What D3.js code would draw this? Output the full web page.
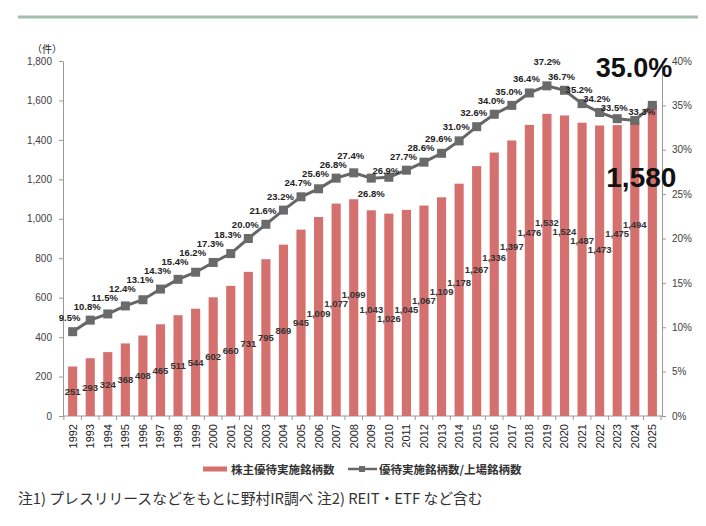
<!DOCTYPE html>
<html><head><meta charset="utf-8">
<script src="https://cdn.jsdelivr.net/npm/d3@7"></script>
<style>body{margin:0;background:#fff}svg{display:block}</style>
</head><body><svg id="c" width="706" height="526"></svg>
<script>
const years = ["1992","1993","1994","1995","1996","1997","1998","1999","2000","2001","2002","2003","2004","2005","2006","2007","2008","2009","2010","2011","2012","2013","2014","2015","2016","2017","2018","2019","2020","2021","2022","2023","2024","2025"];
const companies = [251,293,324,368,408,465,511,544,602,660,731,795,869,945,1009,1077,1099,1043,1026,1045,1067,1109,1178,1267,1336,1397,1476,1532,1524,1487,1473,1475,1494,1580];
const ratioPct = [9.5,10.8,11.5,12.4,13.1,14.3,15.4,16.2,17.3,18.3,20.0,21.6,23.2,24.7,25.6,26.8,27.4,26.8,26.9,27.7,28.6,29.6,31.0,32.6,34.0,35.0,36.4,37.2,36.7,35.2,34.2,33.5,33.3,35.0];
const leftTicks = [0,200,400,600,800,1000,1200,1400,1600,1800];
const rightTicks = [0,5,10,15,20,25,30,35,40];
const legendLabels = ["株主優待実施銘柄数","優待実施銘柄数/上場銘柄数"];
const unitLabel = "（件）";
const footnote = "注1) プレスリリースなどをもとに野村IR調べ 注2) REIT・ETF など含む";

const svg = d3.select("#c");
const NUM = "'Liberation Sans', Arial, sans-serif";
const CJK = "'Noto Sans CJK JP', 'Noto Sans', sans-serif";
const m = {l:63, r:662, t:61, b:416};

const x = d3.scaleBand().domain(years).range([m.l, m.r]).paddingInner(0.48).paddingOuter(0.29);
const yL = d3.scaleLinear().domain([0,1800]).range([m.b, m.t]);
const yR = d3.scaleLinear().domain([0,40]).range([m.b, m.t]);
const cx = d => x(d) + x.bandwidth()/2;
const last = years.length - 1;
const fmt = d3.format(",");

// top rule
svg.append("rect").attr("x",18).attr("y",15.5).attr("width",680).attr("height",3).attr("fill","#a2beae");

// axes
const gL = svg.append("g").attr("transform",`translate(${m.l},0)`)
  .call(d3.axisLeft(yL).tickValues(leftTicks).tickSize(4).tickSizeOuter(0).tickPadding(7).tickFormat(fmt));
const gR = svg.append("g").attr("transform",`translate(${m.r},0)`)
  .call(d3.axisRight(yR).tickValues(rightTicks).tickSize(4).tickSizeOuter(0).tickPadding(6).tickFormat(d => d + "%"));
[gL, gR].forEach(g => {
  g.selectAll("path,line").attr("stroke","#999");
  g.selectAll("text").attr("font-family",NUM).attr("font-size",10).attr("fill","#404040");
});

// bottom axis
svg.append("line").attr("x1",m.l).attr("x2",m.r).attr("y1",m.b).attr("y2",m.b).attr("stroke","#999");
const step = x.step();
const bounds = years.map(d => cx(d) - step/2).concat([cx(years[last]) + step/2]);
svg.append("g").selectAll("line").data(bounds).join("line")
  .attr("x1",d=>d).attr("x2",d=>d).attr("y1",m.b).attr("y2",m.b+4).attr("stroke","#999");
svg.append("g").selectAll("text").data(years).join("text")
  .attr("transform",d=>`translate(${cx(d)},${m.b+8}) rotate(-90)`)
  .attr("text-anchor","end").attr("dy","0.36em")
  .attr("font-family",NUM).attr("font-size",11).attr("fill","#222").text(d=>d);

// unit
svg.append("text").attr("x",47).attr("y",48).attr("text-anchor","middle").attr("dominant-baseline","central")
  .attr("font-family",CJK).attr("font-size",10).attr("fill","#222").text(unitLabel);

// bars
svg.append("g").selectAll("rect").data(years).join("rect")
  .attr("x",d=>x(d)).attr("width",x.bandwidth())
  .attr("y",(d,i)=>yL(companies[i])).attr("height",(d,i)=>m.b - yL(companies[i]))
  .attr("fill","#d4706e");

// line
const line = d3.line().x(d=>cx(d)).y((d,i)=>yR(ratioPct[i]));
svg.append("path").datum(years).attr("d",line).attr("fill","none").attr("stroke","#666").attr("stroke-width",3);
svg.append("g").selectAll("rect").data(years).join("rect")
  .attr("x",d=>cx(d)-4.5).attr("y",(d,i)=>yR(ratioPct[i])-4.5).attr("width",9).attr("height",9).attr("fill","#6a6a6a");

const LH = 9;
// bar labels: base position inside the bar, then staggered to avoid collisions
const barLabelY = [];
years.slice(0,last).forEach((d,i) => {
  const v = companies[i];
  let y = yL(v/2 + Math.max(0, v-1000)*0.4);
  if (i > 0 && fmt(v).length > 3) {
    const prev = barLabelY[i-1];
    if (Math.abs(y - prev) < LH) y = v >= companies[i-1] ? prev - LH : prev + LH;
  }
  barLabelY.push(y);
});
svg.append("g").selectAll("text").data(years.slice(0,last)).join("text")
  .attr("x",d=>cx(d))
  .attr("y",(d,i)=>barLabelY[i])
  .attr("text-anchor","middle").attr("dominant-baseline","central")
  .attr("font-family",NUM).attr("font-size",9.5).attr("font-weight","bold").attr("fill","#333")
  .text((d,i)=>fmt(companies[i]));

// line labels: above the marker, staggered to avoid collisions
const special = {"2009":[0,15], "2010":[-3,-7], "2019":[0,-24], "2024":[7,-9]};
const lineLabelPos = [];
years.slice(0,last).forEach((d,i) => {
  const py = yR(ratioPct[i]);
  if (special[d]) { lineLabelPos.push([cx(d)+special[d][0], py+special[d][1]]); return; }
  let y = py - 14;
  if (i > 0) {
    const prev = lineLabelPos[i-1][1];
    if (Math.abs(y - prev) < LH) y = ratioPct[i] >= ratioPct[i-1] ? prev - LH : prev + LH;
  }
  lineLabelPos.push([cx(d)-3, y]);
});
svg.append("g").selectAll("text").data(years.slice(0,last)).join("text")
  .attr("x",(d,i)=>lineLabelPos[i][0])
  .attr("y",(d,i)=>lineLabelPos[i][1])
  .attr("text-anchor","middle").attr("dominant-baseline","central")
  .attr("font-family",NUM).attr("font-size",9.5).attr("font-weight","bold").attr("fill","#222")
  .text((d,i)=>ratioPct[i].toFixed(1)+"%");

// big labels for latest year
svg.append("text").attr("x",cx(years[last])+20).attr("y",77).attr("text-anchor","end")
  .attr("font-family",NUM).attr("font-size",27).attr("font-weight","bold").attr("fill","#111")
  .text(ratioPct[last].toFixed(1)+"%");
svg.append("text").attr("x",cx(years[last])-11).attr("y",187).attr("text-anchor","middle")
  .attr("font-family",NUM).attr("font-size",28).attr("font-weight","bold").attr("fill","#111")
  .text(fmt(companies[last]));

// legend
svg.append("rect").attr("x",203).attr("y",466.5).attr("width",24).attr("height",5).attr("fill","#d4706e");
svg.append("text").attr("x",231).attr("y",469).attr("dominant-baseline","central")
  .attr("font-family",CJK).attr("font-size",11.5).attr("font-weight","bold").attr("fill","#333").text(legendLabels[0]);
svg.append("line").attr("x1",348).attr("x2",377).attr("y1",469).attr("y2",469).attr("stroke","#666").attr("stroke-width",2.5);
svg.append("rect").attr("x",359).attr("y",466).attr("width",6).attr("height",6).attr("fill","#6a6a6a");
svg.append("text").attr("x",379).attr("y",469).attr("dominant-baseline","central")
  .attr("font-family",CJK).attr("font-size",11.5).attr("font-weight","bold").attr("fill","#333").text(legendLabels[1]);

// footnote
svg.append("text").attr("x",18).attr("y",497).attr("dominant-baseline","central")
  .attr("font-family",CJK).attr("font-size",14.8).attr("fill","#333").text(footnote);
</script></body></html>
